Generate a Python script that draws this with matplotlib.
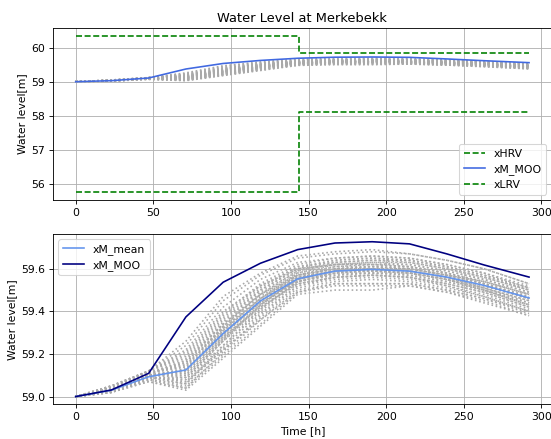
import numpy as np
import matplotlib
matplotlib.use("Agg")
import matplotlib.pyplot as plt

# Time axis [h]
time_h = [0, 23, 47, 71, 95, 119, 143, 167, 191, 215, 239, 263, 292]

# Optimised (MOO) water level trajectory
xM_MOO = [59.000, 59.031, 59.109, 59.374, 59.537, 59.626, 59.690,
          59.721, 59.727, 59.717, 59.670, 59.618, 59.561]

# Ensemble mean
xM_mean = [59.000, 59.030, 59.093, 59.125, 59.296, 59.449, 59.553,
           59.589, 59.597, 59.589, 59.561, 59.522, 59.463]

# Ensemble scenario trajectories
scenarios = [
    [59.00, 59.02, 59.07, 59.03, 59.18, 59.33, 59.48, 59.50, 59.50, 59.52, 59.49, 59.45, 59.38],
    [59.00, 59.02, 59.08, 59.05, 59.20, 59.36, 59.50, 59.53, 59.53, 59.53, 59.50, 59.46, 59.39],
    [59.00, 59.02, 59.08, 59.06, 59.22, 59.37, 59.51, 59.54, 59.55, 59.54, 59.51, 59.47, 59.40],
    [59.00, 59.03, 59.09, 59.07, 59.23, 59.39, 59.52, 59.55, 59.56, 59.55, 59.52, 59.48, 59.41],
    [59.00, 59.03, 59.09, 59.08, 59.24, 59.40, 59.53, 59.56, 59.57, 59.56, 59.53, 59.49, 59.42],
    [59.00, 59.03, 59.09, 59.09, 59.26, 59.41, 59.54, 59.57, 59.58, 59.57, 59.54, 59.50, 59.43],
    [59.00, 59.03, 59.10, 59.10, 59.27, 59.42, 59.54, 59.58, 59.58, 59.58, 59.55, 59.51, 59.44],
    [59.00, 59.03, 59.10, 59.10, 59.28, 59.43, 59.55, 59.58, 59.59, 59.58, 59.55, 59.51, 59.45],
    [59.00, 59.03, 59.10, 59.11, 59.29, 59.44, 59.55, 59.59, 59.59, 59.59, 59.56, 59.52, 59.46],
    [59.00, 59.03, 59.10, 59.12, 59.30, 59.45, 59.56, 59.59, 59.60, 59.59, 59.56, 59.52, 59.46],
    [59.00, 59.04, 59.10, 59.13, 59.31, 59.46, 59.57, 59.60, 59.60, 59.60, 59.57, 59.53, 59.47],
    [59.00, 59.04, 59.11, 59.14, 59.32, 59.47, 59.57, 59.60, 59.61, 59.60, 59.57, 59.53, 59.47],
    [59.00, 59.04, 59.11, 59.15, 59.33, 59.48, 59.58, 59.61, 59.61, 59.61, 59.58, 59.54, 59.48],
    [59.00, 59.04, 59.11, 59.16, 59.34, 59.49, 59.59, 59.62, 59.62, 59.61, 59.58, 59.54, 59.48],
    [59.00, 59.04, 59.11, 59.17, 59.36, 59.50, 59.60, 59.62, 59.63, 59.62, 59.59, 59.55, 59.49],
    [59.00, 59.04, 59.12, 59.19, 59.38, 59.52, 59.61, 59.63, 59.64, 59.63, 59.60, 59.56, 59.50],
    [59.00, 59.05, 59.12, 59.22, 59.42, 59.55, 59.63, 59.65, 59.66, 59.65, 59.62, 59.58, 59.51],
    [59.00, 59.05, 59.12, 59.26, 59.47, 59.58, 59.66, 59.68, 59.69, 59.67, 59.64, 59.60, 59.53],
    [59.00, 59.02, 59.08, 59.04, 59.21, 59.38, 59.52, 59.56, 59.57, 59.56, 59.52, 59.47, 59.40],
    [59.00, 59.02, 59.09, 59.06, 59.24, 59.41, 59.54, 59.58, 59.59, 59.58, 59.55, 59.50, 59.43],
    [59.00, 59.03, 59.09, 59.08, 59.26, 59.43, 59.56, 59.60, 59.61, 59.60, 59.57, 59.53, 59.46],
    [59.00, 59.03, 59.10, 59.09, 59.27, 59.43, 59.55, 59.59, 59.60, 59.60, 59.57, 59.54, 59.48],
    [59.00, 59.03, 59.10, 59.11, 59.28, 59.42, 59.53, 59.56, 59.57, 59.56, 59.53, 59.49, 59.42],
    [59.00, 59.03, 59.10, 59.12, 59.31, 59.46, 59.58, 59.62, 59.63, 59.63, 59.60, 59.56, 59.50],
    [59.00, 59.04, 59.10, 59.13, 59.30, 59.44, 59.54, 59.57, 59.58, 59.57, 59.54, 59.50, 59.44],
    [59.00, 59.04, 59.11, 59.14, 59.33, 59.48, 59.59, 59.63, 59.64, 59.64, 59.61, 59.57, 59.51],
    [59.00, 59.04, 59.11, 59.15, 59.32, 59.46, 59.56, 59.59, 59.59, 59.58, 59.55, 59.50, 59.43],
    [59.00, 59.04, 59.11, 59.16, 59.35, 59.50, 59.60, 59.64, 59.65, 59.64, 59.61, 59.57, 59.51],
    [59.00, 59.04, 59.11, 59.17, 59.34, 59.48, 59.57, 59.60, 59.60, 59.59, 59.56, 59.51, 59.45],
    [59.00, 59.04, 59.12, 59.18, 59.37, 59.51, 59.61, 59.64, 59.65, 59.64, 59.61, 59.57, 59.50],
    [59.00, 59.04, 59.12, 59.20, 59.39, 59.53, 59.62, 59.65, 59.66, 59.65, 59.62, 59.58, 59.52],
    [59.00, 59.05, 59.12, 59.21, 59.40, 59.52, 59.60, 59.62, 59.62, 59.61, 59.58, 59.53, 59.46],
    [59.00, 59.05, 59.12, 59.24, 59.45, 59.57, 59.65, 59.67, 59.68, 59.67, 59.64, 59.60, 59.53],
    [59.00, 59.02, 59.07, 59.04, 59.19, 59.34, 59.49, 59.52, 59.52, 59.52, 59.49, 59.44, 59.38],
    [59.00, 59.03, 59.09, 59.07, 59.22, 59.36, 59.49, 59.53, 59.53, 59.53, 59.50, 59.46, 59.40],
    [59.00, 59.03, 59.10, 59.12, 59.29, 59.45, 59.57, 59.61, 59.62, 59.62, 59.59, 59.55, 59.49],
]

# Operating limits (highest / lowest regulated level)
limit_time = [0, 144, 292]
xHRV = [60.35, 59.85, 59.85]
xLRV = [55.75, 58.10, 58.10]

GREEN = "green"
GRAY = "darkgray"
DPI = 78

fig = plt.figure(figsize=(551 / DPI, 439 / DPI), dpi=DPI)
ax1 = fig.add_axes([0.0962, 0.5444, 0.9051, 0.3918])
ax2 = fig.add_axes([0.0962, 0.079, 0.9051, 0.388])

# Upper panel: level with limits
for s in scenarios:
    ax1.plot(time_h, s, color=GRAY, linestyle=":", linewidth=1.5, zorder=1)
ax1.plot(limit_time, xHRV, color=GREEN, linestyle="--", linewidth=1.5,
         drawstyle="steps-post", label="xHRV", zorder=3)
ax1.plot(time_h, xM_MOO, color="royalblue", linewidth=1.5, label="xM_MOO", zorder=3)
ax1.plot(limit_time, xLRV, color=GREEN, linestyle="--", linewidth=1.5,
         drawstyle="steps-post", label="xLRV", zorder=3)
ax1.set_title("Water Level at Merkebekk", fontsize=12)
ax1.set_ylabel("Water level[m]", fontsize=10)
ax1.grid(True)
ax1.legend(loc="lower right", fontsize=10)

# Lower panel: ensemble detail
for s in scenarios:
    ax2.plot(time_h, s, color=GRAY, linestyle=":", linewidth=1.5, zorder=1)
ax2.plot(time_h, xM_mean, color="cornflowerblue", linewidth=1.5, label="xM_mean", zorder=3)
ax2.plot(time_h, xM_MOO, color="navy", linewidth=1.5, label="xM_MOO", zorder=3)
ax2.set_xlabel("Time [h]", fontsize=10)
ax2.set_ylabel("Water level[m]", fontsize=10)
ax2.grid(True)
ax2.legend(loc="upper left", fontsize=10)

for ax in (ax1, ax2):
    ax.tick_params(labelsize=10)

fig.savefig("out.png", dpi=DPI)
